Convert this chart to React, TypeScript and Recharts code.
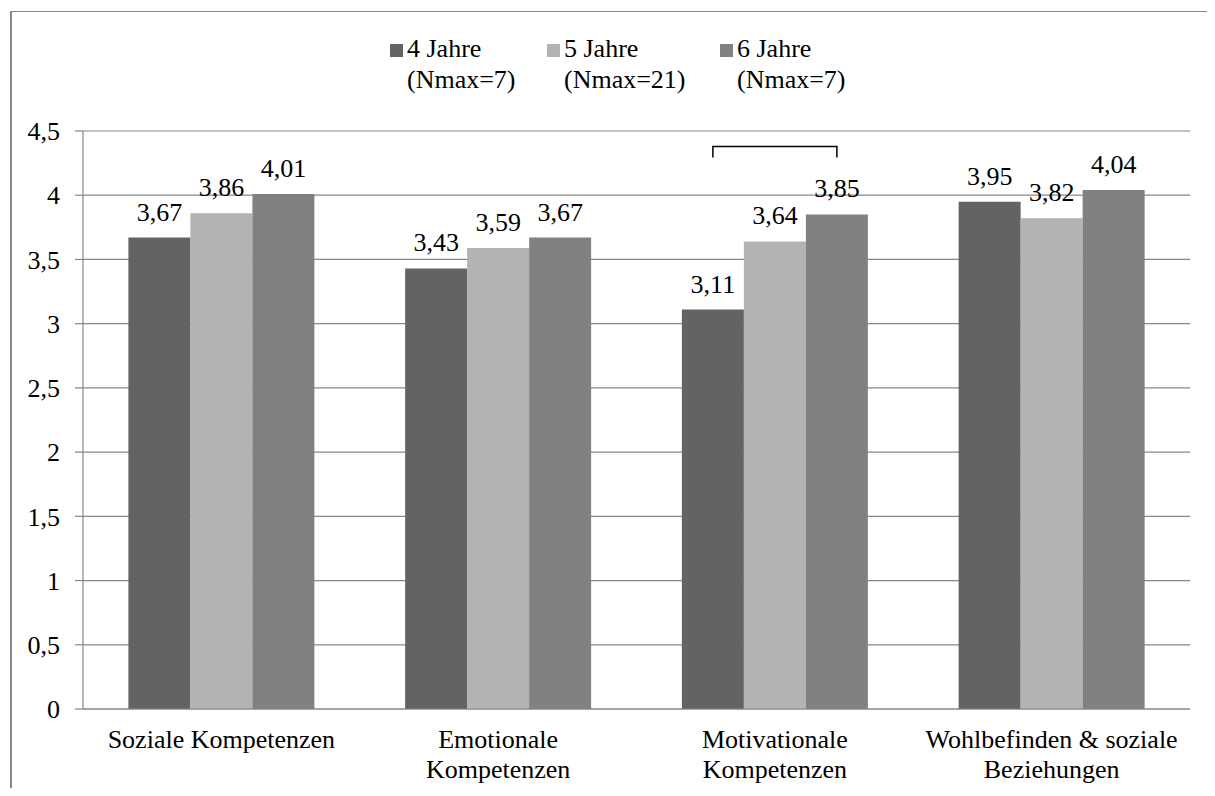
import React from "react";
import {
  Bar,
  BarChart,
  CartesianGrid,
  LabelList,
  Legend,
  XAxis,
  YAxis,
} from "recharts";

const categories = [
  "Soziale Kompetenzen",
  "Emotionale\nKompetenzen",
  "Motivationale\nKompetenzen",
  "Wohlbefinden & soziale\nBeziehungen",
];
const jahre4 = [3.67, 3.43, 3.11, 3.95];
const jahre5 = [3.86, 3.59, 3.64, 3.82];
const jahre6 = [4.01, 3.67, 3.85, 4.04];
const yTicks = [0, 0.5, 1, 1.5, 2, 2.5, 3, 3.5, 4, 4.5];

const series = [
  { key: "j4", name: "4 Jahre", sub: "(Nmax=7)", color: "#636363" },
  { key: "j5", name: "5 Jahre", sub: "(Nmax=21)", color: "#b3b3b3" },
  { key: "j6", name: "6 Jahre", sub: "(Nmax=7)", color: "#818181" },
];
// legend slot widths, so the items keep their spacing whatever the font
const legendSlots = [157, 173, 117];

// bracket over the 4- and 6-year bars of a category, at the given y value
const brackets = [{ category: "Motivationale\nKompetenzen", level: 4.38 }];

const data = categories.map((category, i) => ({
  category,
  j4: jahre4[i],
  j5: jahre5[i],
  j6: jahre6[i],
}));

const FONT = "Liberation Serif, Times New Roman, DejaVu Serif, serif";
const GRAY = "#878787";

const fmt = (v: number) => Number(v).toFixed(2).replace(".", ",");

function CategoryTick({ x, y, payload }: any) {
  const lines = String(payload.value).split("\n");
  return (
    <text x={x} y={y} textAnchor="middle" style={{ fontSize: 26, fontFamily: FONT }} fill="#000">
      {lines.map((line, i) => (
        <tspan key={i} x={x} dy={i === 0 ? 39 : 30}>
          {line}
        </tspan>
      ))}
    </text>
  );
}

function BracketMark(props: any) {
  const { x, y, width, height, index } = props;
  const b = brackets.find((br) => br.category === categories[index]);
  if (!b) return null;
  const value = jahre4[index];
  const zero = y + height;
  const by = zero - (b.level * height) / value;
  const x1 = x + width / 2;
  const x2 = x1 + 2 * width;
  return (
    <path
      d={`M${x1},${by + 11}V${by}H${x2}V${by + 11}`}
      fill="none"
      stroke="#000"
      strokeWidth={1.5}
    />
  );
}

function LegendBox() {
  return (
    <div
      style={{
        height: 62,
        textAlign: "center",
        fontFamily: FONT,
        fontSize: 26,
        lineHeight: "31px",
        color: "#000",
        whiteSpace: "nowrap",
      }}
    >
      {series.map((s, i) => (
        <div
          key={s.key}
          style={{
            display: "inline-block",
            verticalAlign: "top",
            textAlign: "left",
            width: legendSlots[i],
          }}
        >
          <div>
            <span
              style={{
                display: "inline-block",
                width: 13,
                height: 13,
                background: s.color,
                marginRight: 4,
                verticalAlign: "baseline",
              }}
            />
            {s.name}
          </div>
          <div style={{ paddingLeft: 17 }}>{s.sub}</div>
        </div>
      ))}
    </div>
  );
}

export default function App() {
  return (
    <div
      style={{
        position: "relative",
        width: 1215,
        height: 796,
        margin: -8,
        overflow: "hidden",
        background: "#fff",
        fontFamily: FONT,
      }}
    >
      <div
        style={{
          position: "absolute",
          left: 10,
          top: 11,
          width: 1210,
          height: 800,
          borderLeft: `2px solid ${GRAY}`,
          borderTop: `1px solid ${GRAY}`,
        }}
      >
        <BarChart
          width={1203}
          height={784}
          data={data}
          margin={{ top: 57, right: 25, bottom: 0, left: 0 }}
          barCategoryGap="16.4%"
          barGap={0}
          style={{ fontFamily: FONT }}
        >
          <CartesianGrid vertical={false} stroke={GRAY} strokeWidth={1.2} />
          <XAxis
            xAxisId="edges"
            type="number"
            domain={[0, categories.length]}
            ticks={categories.map((_, i) => i).concat(categories.length)}
            allowDataOverflow
            height={0}
            axisLine={false}
            tick={false}
            tickSize={7}
            tickLine={{ stroke: GRAY, strokeWidth: 1.2 }}
          />
          <XAxis
            dataKey="category"
            height={87}
            interval={0}
            tickSize={0}
            tickMargin={0}
            tickLine={false}
            axisLine={{ stroke: GRAY, strokeWidth: 1.2 }}
            tick={<CategoryTick />}
          />
          <YAxis
            width={71}
            domain={[0, 4.5]}
            ticks={yTicks}
            tickFormatter={(v) => String(v).replace(".", ",")}
            tickSize={8}
            tickMargin={15}
            axisLine={{ stroke: GRAY, strokeWidth: 1.2 }}
            tickLine={{ stroke: GRAY, strokeWidth: 1.2 }}
            tick={{ fill: "#000", fontSize: 26, style: { fontFamily: FONT, fontSize: 26 } }}
          />
          <Legend
            verticalAlign="top"
            content={<LegendBox />}
            wrapperStyle={{ top: 21, left: 0, width: 1203 }}
          />
          {series.map((s) => (
            <Bar
              key={s.key}
              dataKey={s.key}
              name={s.name}
              fill={s.color}
              isAnimationActive={false}
            >
              <LabelList
                dataKey={s.key}
                position="top"
                offset={17}
                formatter={(v: any) => fmt(v)}
                fill="#000"
                style={{ fill: "#000", fontSize: 26, fontFamily: FONT }}
              />
              {s.key === "j4" && <LabelList dataKey={s.key} content={<BracketMark />} />}
            </Bar>
          ))}
        </BarChart>
      </div>
    </div>
  );
}
